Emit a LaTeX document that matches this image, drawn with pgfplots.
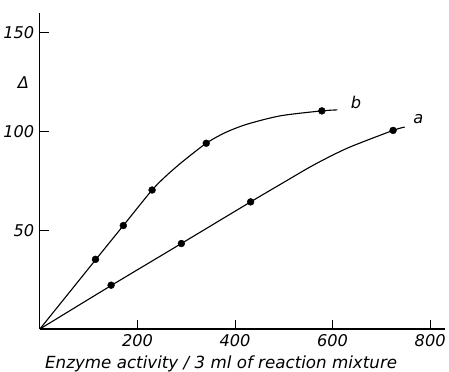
\documentclass[border=0pt]{standalone}
\usepackage{fontspec}
\setmainfont{DejaVu Sans}
\usepackage{pgfplots}
\pgfplotsset{compat=1.18}
\begin{document}
\begin{tikzpicture}
\begin{axis}[
  scale only axis,
  width=400pt, height=312pt,
  xmin=0, xmax=830, ymin=0, ymax=160,
  axis x line*=bottom, axis y line*=left,
  xtick pos=bottom, ytick pos=left,
  axis line style={-, line width=1pt},
  xtick={200,400,600,800},
  ytick={50,100,150},
  tick align=inside,
  major tick length=9pt,
  every tick/.append style={line width=1pt, black},
  /pgf/number format/assume math mode=true,
  ticklabel style={font=\itshape\fontsize{16}{16}\selectfont},
  xticklabel style={yshift=-2pt},
  yticklabel style={xshift=-2pt},
  xlabel={\itshape Enzyme activity / 3 ml of reaction mixture},
  xlabel style={font=\fontsize{16.5}{16.5}\selectfont, at={(axis description cs:0,0)}, anchor=north west, inner sep=0pt, yshift=-26pt, xshift=5pt},
  clip=false,
]
% curve b (line)
\addplot[black, line width=1.1pt, smooth, tension=0.45] coordinates {
  (0,0) (114,35) (171,52.4) (230,70.4) (262,78.3) (295,85.3) (341,94.1) (380,99.5) (424,103.7) (493,108) (578,110.5) (610,111)
};
% curve a
\addplot[black, line width=1.1pt, smooth, tension=0.45] coordinates {
  (0,0) (146,22) (290,43.3) (432,64.4) (500,74.3) (562,83.2) (631,91.7) (724,100.6) (748,102.3)
};
% data points b
\addplot[only marks, mark=*, mark size=3.4pt, black] coordinates {
  (114,35.3) (171,52.4) (230,70.4) (341,94.1) (578,110.5)
};
% data points a
\addplot[only marks, mark=*, mark size=3.4pt, black] coordinates {
  (146,22.2) (290,43.3) (432,64.4) (724,100.6)
};
\node[font=\itshape\fontsize{16}{16}\selectfont] at (axis cs:648,114.6) {b};
\node[font=\itshape\fontsize{16}{16}\selectfont] at (axis cs:776,106.4) {a};
\node[font=\itshape\fontsize{16}{16}\selectfont] at (axis cs:-34,125) {Δ};
\path (rel axis cs:0,1) -- ++(0,13pt);
\end{axis}
\end{tikzpicture}
\end{document}
